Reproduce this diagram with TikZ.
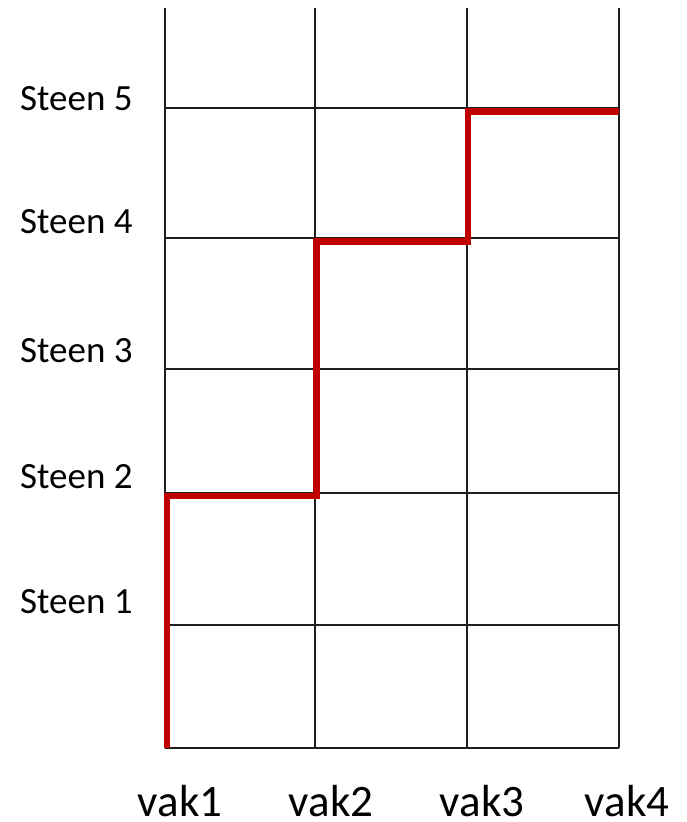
\documentclass[tikz,border=0pt]{standalone}
\usepackage{fontspec}
\setmainfont{Carlito}
\usepackage{tikz}
\usetikzlibrary{positioning}
\usepackage{xcolor}
\definecolor{pathred}{RGB}{192,0,0}
\definecolor{gridblack}{RGB}{30,30,30}

\begin{document}
\begin{tikzpicture}[x=1pt, y=-1pt]
        \useasboundingbox (0,0) rectangle (686,822);
        \tikzset{gridline/.style={draw=gridblack, line width=1.5pt},
                 stairpath/.style={draw=pathred, line width=6.5pt, line join=miter},
                 steenlabel/.style={anchor=base west, inner sep=0pt, font=\fontsize{37}{44}\selectfont},
                 vaklabel/.style={anchor=base, inner sep=0pt, text depth=0pt, font=\fontsize{45}{54}\selectfont}}

        % grid
        \foreach \x in {165,315,467,619} \draw[gridline] (\x,8) -- (\x,748);
        \foreach \y in {108,238,369,493,625,748} \draw[gridline] (165,\y) -- (619,\y);

        % row and column labels
        \foreach \n/\y in {1/613,2/488,3/362,4/233,5/110}
            \node[steenlabel] (steen\n) at (20,\y) {Steen \n};
        \foreach \n/\x in {1/180,2/331,3/482,4/627}
            \node[vaklabel] (vak\n) at (\x,816) {vak\n};

        % red staircase
        \draw[stairpath] (167,748) -- (167,496) -- (316.5,496) -- (316.5,241.5)
            -- (468,241.5) -- (468,111.5) -- (619,111.5);
    \end{tikzpicture}
\end{document}
